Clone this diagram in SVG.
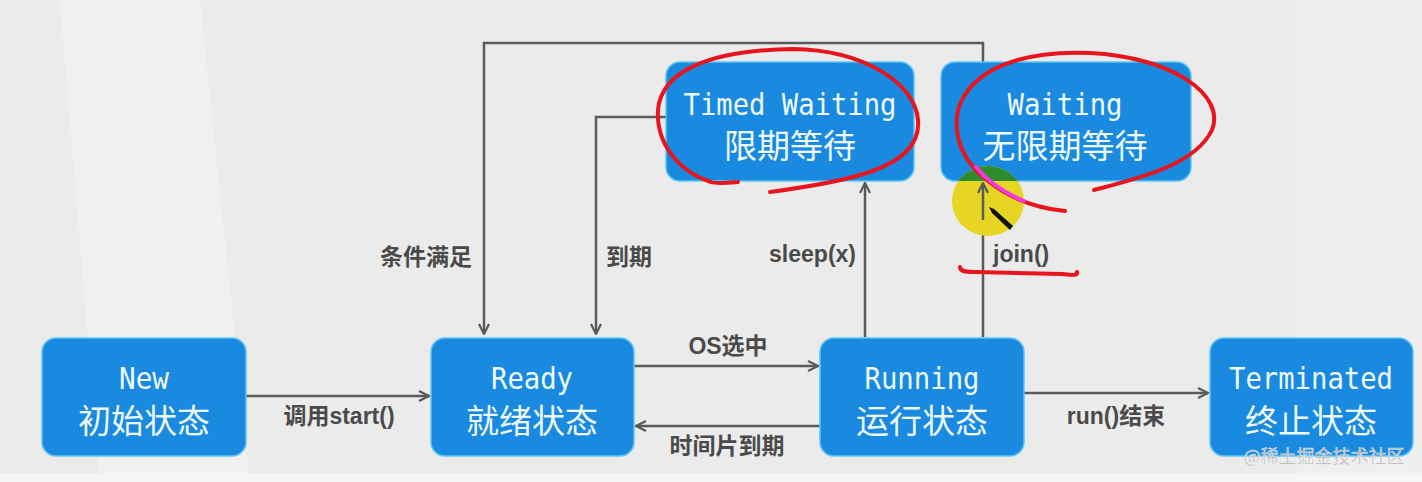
<svg xmlns="http://www.w3.org/2000/svg" width="1422" height="482" viewBox="0 0 1422 482">
<style>
.box{fill:#1a89e0;stroke:#5cc6f2;stroke-width:1.5}
.en{font-family:"DejaVu Sans Mono","Liberation Mono",monospace;font-size:30px;fill:#eef9ff;text-anchor:middle}
.zh{font-family:"Noto Sans CJK SC","Noto Sans",sans-serif;font-size:33px;fill:#eef9ff;text-anchor:middle}
.lbl{font-family:"Liberation Sans","Noto Sans CJK SC",sans-serif;font-size:23px;font-weight:bold;fill:#4a4a4a}
.edge{fill:none;stroke:#5a5a5a;stroke-width:2.5}
.red{fill:none;stroke:#e8141e;stroke-width:4;stroke-linecap:round;stroke-linejoin:round}
</style>
<defs>
<marker id="arr" viewBox="0 0 12 12" refX="11" refY="6" markerWidth="12" markerHeight="12" markerUnits="userSpaceOnUse" orient="auto">
<path d="M1,1 L11,6 L1,11" fill="none" stroke="#5a5a5a" stroke-width="2.2"/>
</marker>
<clipPath id="wclip"><rect x="941" y="62" width="250" height="119" rx="14"/></clipPath>
</defs>
<rect width="1422" height="482" fill="#ebebeb"/>
<polygon points="60,0 200,0 250,482 100,482" fill="#f0f0f0"/>
<polygon points="1296,0 1422,0 1422,482 1296,482" fill="#efefef"/>
<rect x="0" y="473" width="1422" height="9" fill="#f5f5f5"/>

<g id="connectors">
<path class="edge" d="M246,396 L429,396" marker-end="url(#arr)"/>
<path class="edge" d="M634,366 L818,366" marker-end="url(#arr)"/>
<path class="edge" d="M820,426 L636,426" marker-end="url(#arr)"/>
<path class="edge" d="M1024,393 L1208,393" marker-end="url(#arr)"/>
<path class="edge" d="M865,337 L865,183" marker-end="url(#arr)"/>
<path class="edge" d="M983,337 L983,183" marker-end="url(#arr)"/>
<path class="edge" d="M983,62 L983,43 L484,43 L484,334" marker-end="url(#arr)"/>
<path class="edge" d="M667,117 L596,117 L596,334" marker-end="url(#arr)"/>
<text class="lbl" x="339" y="424" text-anchor="middle">调用start()</text>
<text class="lbl" x="728" y="354" text-anchor="middle">OS选中</text>
<text class="lbl" x="727" y="454" text-anchor="middle">时间片到期</text>
<text class="lbl" x="1116" y="424" text-anchor="middle">run()结束</text>
<text class="lbl" x="856" y="262" text-anchor="end">sleep(x)</text>
<text class="lbl" x="993" y="262">join()</text>
<text class="lbl" x="426" y="265" text-anchor="middle">条件满足</text>
<text class="lbl" x="629" y="265" text-anchor="middle">到期</text>
</g>

<g id="node-new">
<rect class="box" x="42" y="338" width="204" height="118" rx="14"/>
<text class="en" x="144" y="389" textLength="50" lengthAdjust="spacingAndGlyphs">New</text>
<text class="zh" x="144" y="433">初始状态</text>
</g>
<g id="node-ready">
<rect class="box" x="431" y="338" width="203" height="118" rx="14"/>
<text class="en" x="532" y="389" textLength="82" lengthAdjust="spacingAndGlyphs">Ready</text>
<text class="zh" x="532" y="433">就绪状态</text>
</g>
<g id="node-running">
<rect class="box" x="820" y="338" width="204" height="118" rx="14"/>
<text class="en" x="922" y="389" textLength="115" lengthAdjust="spacingAndGlyphs">Running</text>
<text class="zh" x="922" y="433">运行状态</text>
</g>
<g id="node-terminated">
<rect class="box" x="1210" y="338" width="203" height="118" rx="14"/>
<text class="en" x="1311" y="389" textLength="164" lengthAdjust="spacingAndGlyphs">Terminated</text>
<text class="zh" x="1311" y="433">终止状态</text>
</g>
<g id="node-timed-waiting">
<rect class="box" x="666" y="62" width="248" height="119" rx="14"/>
<text class="en" x="790" y="115" textLength="213" lengthAdjust="spacingAndGlyphs">Timed Waiting</text>
<text class="zh" x="790" y="158">限期等待</text>
</g>
<g id="node-waiting">
<rect class="box" x="941" y="62" width="250" height="119" rx="14"/>
<text class="en" x="1065" y="115" textLength="115" lengthAdjust="spacingAndGlyphs">Waiting</text>
<text class="zh" x="1065" y="158">无限期等待</text>
</g>

<g id="annotations">
<ellipse cx="988" cy="201" rx="36" ry="35" fill="#e6d522"/>
<ellipse cx="988" cy="201" rx="36" ry="35" fill="#2e8b2e" clip-path="url(#wclip)"/>
<path class="edge" d="M983,220 L983,183" marker-end="url(#arr)"/>
<path class="red" d="M738,182 C726,183 716,184 711,182 C680,172 656,145 658,110 C661,72 708,50 793,49 C862,50 915,82 918,120 C920,142 905,160 870,172 C840,182 800,188 770,192"/>
<path class="red" d="M1094,190 C1140,178 1195,165 1212,130 C1226,95 1172,57 1090,53 C1020,50 970,70 958,110 C952,140 966,164 988,181 C1008,197 1035,208 1065,211"/>
<path fill="none" stroke="#f03cdc" stroke-width="4" stroke-linecap="round" d="M976,167 C984,177 1000,191 1024,201"/>
<path class="red" d="M960,267 C960,271 964,272 975,272 L1062,274 C1072,275 1078,276 1077,272"/>
<path d="M989,207 L994,209 L1013,226 L1010,230 L992,213 Z" fill="#111"/>
</g>

<text x="1324" y="463" text-anchor="middle" font-family="'Noto Sans CJK SC',sans-serif" font-size="18" fill="#b4b4b4" stroke="#ffffff" stroke-width="0.6" stroke-opacity="0.6">@稀土掘金技术社区</text>
</svg>
